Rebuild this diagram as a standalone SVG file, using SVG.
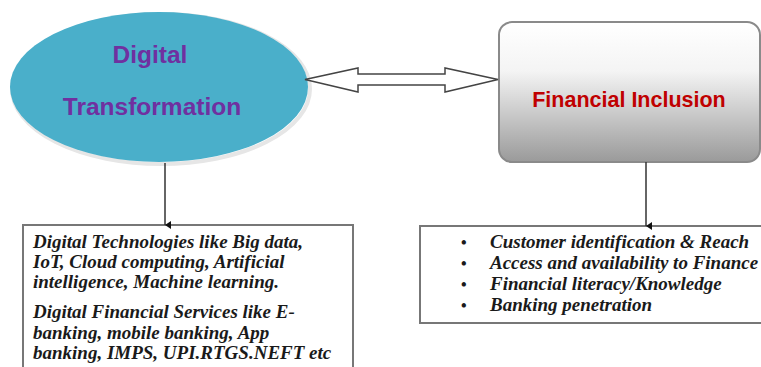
<svg xmlns="http://www.w3.org/2000/svg" width="761" height="367" viewBox="0 0 761 367">
<defs>
<linearGradient id="boxGrad" x1="0" y1="0" x2="0" y2="1">
<stop offset="0" stop-color="#ffffff"/>
<stop offset="0.35" stop-color="#f4f4f4"/>
<stop offset="1" stop-color="#9a9a9a"/>
</linearGradient>
<marker id="dot" markerWidth="8" markerHeight="8" refX="4" refY="7" orient="auto" markerUnits="userSpaceOnUse">
<path d="M0,1 L8,1 L4,7 Z" fill="#111"/>
</marker>
<style>
.conn{stroke:#333;stroke-width:1.5;fill:none}
.head{font-family:"Liberation Sans",Arial,sans-serif;font-weight:bold}
.body{font-family:"Liberation Serif","Times New Roman",serif;font-weight:bold;font-style:italic;font-size:19px;fill:#1a1a1a}
.box{fill:#fff;stroke:#777;stroke-width:2}
</style>
</defs>
<rect width="761" height="367" fill="#fff"/>
<g id="digital-transformation">
<ellipse cx="161" cy="89" rx="149" ry="75" fill="none" stroke="#e6e6e6" stroke-width="4"/>
<ellipse cx="159" cy="87" rx="149" ry="75" fill="#4aafca"/>
<text class="head" x="150" y="63" font-size="24.5" fill="#7030a0" text-anchor="middle">Digital</text>
<text class="head" x="152" y="115" font-size="24.5" fill="#7030a0" text-anchor="middle">Transformation</text>
</g>
<g id="financial-inclusion">
<rect x="499" y="22" width="261" height="140" rx="13" fill="url(#boxGrad)" stroke="#8a8a8a" stroke-width="2"/>
<text class="head" x="629" y="107" font-size="21.5" fill="#c00000" text-anchor="middle">Financial Inclusion</text>
</g>
<g id="technologies-box">
<path class="box" d="M23,380 L23,225 L353,225 L353,380"/>
<text class="body" x="33" y="248">Digital Technologies like Big data,</text>
<text class="body" x="33" y="268">IoT, Cloud computing, Artificial</text>
<text class="body" x="33" y="288">intelligence, Machine learning.</text>
<text class="body" x="33" y="318">Digital Financial Services like E-</text>
<text class="body" x="33" y="339">banking, mobile banking, App</text>
<text class="body" x="33" y="359">banking, IMPS, UPI.RTGS.NEFT etc</text>
</g>
<g id="inclusion-box">
<path class="box" d="M775,226 L420,226 L420,323 L775,323"/>
<g class="body">
<text x="461" y="248" font-style="normal" font-size="16">•</text>
<text x="490" y="248">Customer identification &amp; Reach</text>
<text x="461" y="269" font-style="normal" font-size="16">•</text>
<text x="490" y="269">Access and availability to Finance</text>
<text x="461" y="290" font-style="normal" font-size="16">•</text>
<text x="490" y="290">Financial literacy/Knowledge</text>
<text x="461" y="311" font-style="normal" font-size="16">•</text>
<text x="490" y="311">Banking penetration</text>
</g>
</g>
<g id="connectors">
<path d="M305,79.5 L358,68 L358,74 L445,74 L445,68 L498,79.5 L445,92 L445,85 L358,85 L358,92 Z" fill="#fff" stroke="#444" stroke-width="1.5" stroke-linejoin="miter"/>
<line class="conn" x1="165" y1="163" x2="165" y2="225" marker-end="url(#dot)"/>
<line class="conn" x1="646" y1="162" x2="646" y2="226" marker-end="url(#dot)"/>
</g>
</svg>
